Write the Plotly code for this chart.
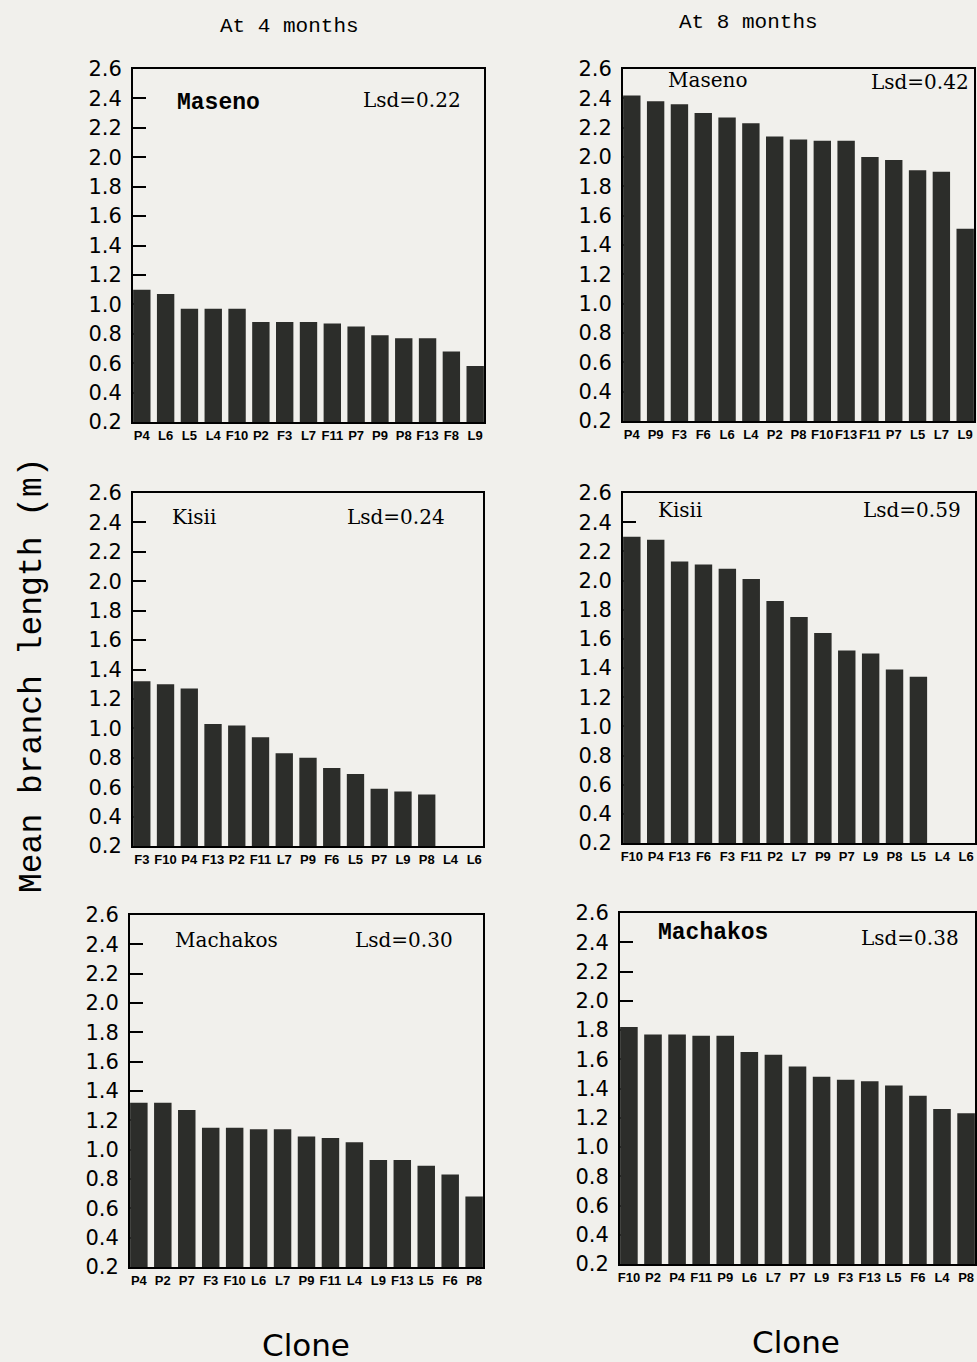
import plotly.graph_objects as go

# Mean branch length (m) per clone, sorted within each site and age
maseno_4m_clones = ["P4", "L6", "L5", "L4", "F10", "P2", "F3", "L7", "F11", "P7", "P9", "P8", "F13", "F8", "L9"]
maseno_4m_values = [1.10, 1.07, 0.97, 0.97, 0.97, 0.88, 0.88, 0.88, 0.87, 0.85, 0.79, 0.77, 0.77, 0.68, 0.58]

maseno_8m_clones = ["P4", "P9", "F3", "F6", "L6", "L4", "P2", "P8", "F10", "F13", "F11", "P7", "L5", "L7", "L9"]
maseno_8m_values = [2.42, 2.38, 2.36, 2.30, 2.27, 2.23, 2.14, 2.12, 2.11, 2.11, 2.00, 1.98, 1.91, 1.90, 1.51]

kisii_4m_clones = ["F3", "F10", "P4", "F13", "P2", "F11", "L7", "P9", "F6", "L5", "P7", "L9", "P8", "L4", "L6"]
kisii_4m_values = [1.32, 1.30, 1.27, 1.03, 1.02, 0.94, 0.83, 0.80, 0.73, 0.69, 0.59, 0.57, 0.55, None, None]

kisii_8m_clones = ["F10", "P4", "F13", "F6", "F3", "F11", "P2", "L7", "P9", "P7", "L9", "P8", "L5", "L4", "L6"]
kisii_8m_values = [2.30, 2.28, 2.13, 2.11, 2.08, 2.01, 1.86, 1.75, 1.64, 1.52, 1.50, 1.39, 1.34, None, None]

machakos_4m_clones = ["P4", "P2", "P7", "F3", "F10", "L6", "L7", "P9", "F11", "L4", "L9", "F13", "L5", "F6", "P8"]
machakos_4m_values = [1.32, 1.32, 1.27, 1.15, 1.15, 1.14, 1.14, 1.09, 1.08, 1.05, 0.93, 0.93, 0.89, 0.83, 0.68]

machakos_8m_clones = ["F10", "P2", "P4", "F11", "P9", "L6", "L7", "P7", "L9", "F3", "F13", "L5", "F6", "L4", "P8"]
machakos_8m_values = [1.82, 1.77, 1.77, 1.76, 1.76, 1.65, 1.63, 1.55, 1.48, 1.46, 1.45, 1.42, 1.35, 1.26, 1.23]

site_names = ["Maseno", "Maseno", "Kisii", "Kisii", "Machakos", "Machakos"]
lsd_labels = ["Lsd=0.22", "Lsd=0.42", "Lsd=0.24", "Lsd=0.59", "Lsd=0.30", "Lsd=0.38"]
column_titles = ["At 4 months", "At 8 months"]
y_ticks = [0.2, 0.4, 0.6, 0.8, 1.0, 1.2, 1.4, 1.6, 1.8, 2.0, 2.2, 2.4, 2.6]

W, H = 977, 1362
BG = "#f1f0ec"
BAR = "#2c2d2a"

panels = [
    (maseno_4m_clones, maseno_4m_values),
    (maseno_8m_clones, maseno_8m_values),
    (kisii_4m_clones, kisii_4m_values),
    (kisii_8m_clones, kisii_8m_values),
    (machakos_4m_clones, machakos_4m_values),
    (machakos_8m_clones, machakos_8m_values),
]

# frame boxes in pixels: (left, right, top, bottom)
boxes = [
    (133, 484, 69, 422),
    (623, 974, 69, 421),
    (133, 483, 493, 846),
    (623, 975, 493, 843),
    (130, 483, 915, 1267),
    (620, 975, 913, 1264),
]

# label placement inside each frame (fraction of width, fraction from top), styling
site_pos = [(0.245, 0.096), (0.24, 0.031), (0.174, 0.068), (0.162, 0.048), (0.272, 0.071), (0.262, 0.057)]
lsd_pos = [(0.795, 0.088), (0.845, 0.037), (0.751, 0.068), (0.82, 0.048), (0.776, 0.071), (0.817, 0.071)]
site_bold = [True, False, False, False, False, True]

fig = go.Figure()
layout = dict(
    width=W, height=H,
    margin=dict(l=0, r=0, t=0, b=0, autoexpand=False),
    paper_bgcolor=BG, plot_bgcolor=BG,
    showlegend=False,
    bargap=0.27,
    annotations=[],
)

for i, ((clones, values), (x0, x1, y0, y1)) in enumerate(zip(panels, boxes)):
    n = "" if i == 0 else str(i + 1)
    fig.add_trace(go.Bar(
        x=clones, y=values,
        marker=dict(color=BAR, line=dict(width=0)),
        xaxis="x" + n, yaxis="y" + n,
    ))
    layout["xaxis" + n] = dict(
        domain=[x0 / W, x1 / W],
        anchor="y" + n,
        type="category",
        range=[-0.37, len(clones) - 1 + 0.37],
        showline=True, mirror=True, linecolor="black", linewidth=2,
        ticks="", showgrid=False, zeroline=False,
        tickfont=dict(family="Liberation Sans", size=13, color="black", weight="bold"),
        tickangle=0,
        layer="below traces",
    )
    layout["yaxis" + n] = dict(
        domain=[1 - y1 / H, 1 - y0 / H],
        anchor="x" + n,
        range=[0.2, 2.6],
        tickvals=y_ticks, tickformat=".1f",
        showline=True, mirror=True, linecolor="black", linewidth=2,
        ticks="inside", ticklen=13, tickwidth=1.5, tickcolor="black",
        showgrid=False, zeroline=False,
        tickfont=dict(family="DejaVu Sans", size=21, color="black"),
        ticklabelstandoff=5,
        layer="below traces",
    )
    sx, sy = site_pos[i]
    if site_bold[i]:
        sfont = dict(family="Liberation Mono", size=23, color="black", weight="bold")
    else:
        sfont = dict(family="DejaVu Serif", size=20, color="black")
    layout["annotations"].append(dict(
        text=site_names[i], xref="x%s domain" % n, yref="y%s domain" % n,
        x=sx, y=1 - sy, showarrow=False, xanchor="center", yanchor="middle", font=sfont,
    ))
    lx, ly = lsd_pos[i]
    layout["annotations"].append(dict(
        text=lsd_labels[i], xref="x%s domain" % n, yref="y%s domain" % n,
        x=lx, y=1 - ly, showarrow=False, xanchor="center", yanchor="middle",
        font=dict(family="DejaVu Serif", size=20, color="black"),
    ))

# column headings, shared axis titles
for txt, cx, cy in [(column_titles[0], 289, 26), (column_titles[1], 748, 22)]:
    layout["annotations"].append(dict(
        text=txt, xref="paper", yref="paper", x=cx / W, y=1 - cy / H,
        showarrow=False, xanchor="center", yanchor="middle",
        font=dict(family="Liberation Mono", size=21, color="black"),
    ))
for cx, cy in [(306, 1345), (796, 1342)]:
    layout["annotations"].append(dict(
        text="Clone", xref="paper", yref="paper", x=cx / W, y=1 - cy / H,
        showarrow=False, xanchor="center", yanchor="middle",
        font=dict(family="DejaVu Sans", size=31, color="black"),
    ))
layout["annotations"].append(dict(
    text="Mean branch length (m)", xref="paper", yref="paper", x=32 / W, y=1 - 675 / H,
    showarrow=False, xanchor="center", yanchor="middle", textangle=-90,
    font=dict(family="Liberation Mono", size=33, color="black"),
))

fig.update_layout(**layout)
fig.write_html("out.html")
